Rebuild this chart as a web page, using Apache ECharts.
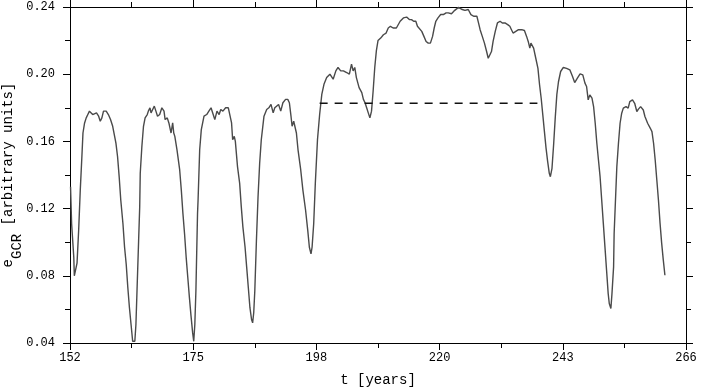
<!DOCTYPE html>
<html>
<head>
<meta charset="utf-8">
<script src="https://cdn.jsdelivr.net/npm/echarts@6/dist/echarts.min.js"></script>
<style>
  html, body { margin: 0; padding: 0; background: #fff; }
  #chart { width: 703px; height: 389px; }
</style>
</head>
<body>
<div id="chart"></div>
<script>
// time axis (years) and GCR intensity
var tYears = [
    152.1, 152.3, 152.7, 152.8, 153.1, 153.3, 153.6, 153.9, 154.2, 154.4,
    154.7, 155.0, 155.3, 155.6, 155.9, 156.2, 156.5, 156.9, 157.3, 157.6,
    157.9, 158.2, 158.7, 159.1, 159.5, 159.9, 160.2, 160.5, 160.8, 161.1,
    161.4, 161.8, 162.1, 162.4, 162.7, 163.0, 163.3, 163.6, 163.8, 164.0,
    164.2, 164.4, 164.7, 164.9, 165.0, 165.3, 165.6, 165.9, 166.3, 166.5,
    166.8, 167.0, 167.3, 167.6, 167.9, 168.2, 168.6, 169.0, 169.4, 169.6,
    170.0, 170.3, 170.7, 171.0, 171.2, 171.4, 171.8, 172.3, 172.6, 172.9,
    173.2, 173.5, 173.8, 174.1, 174.4, 174.7, 174.9, 175.1, 175.3, 175.6,
    175.7, 176.0, 176.3, 176.8, 177.3, 177.7, 178.1, 178.5, 178.8, 179.2,
    179.6, 179.9, 180.3, 180.8, 181.3, 181.6, 181.9, 182.1, 182.4, 182.6,
    183.0, 183.4, 183.7, 184.0, 184.4, 184.7, 185.0, 185.3, 185.6, 185.8,
    186.0, 186.2, 186.5, 186.8, 187.1, 187.4, 187.9, 188.4, 188.8, 189.2,
    189.6, 189.9, 190.2, 190.6, 191.0, 191.4, 191.9, 192.3, 192.6, 192.9,
    193.1, 193.4, 193.6, 193.9, 194.2, 194.7, 195.1, 195.6, 196.0, 196.3,
    196.6, 196.8, 197.1, 197.4, 197.8, 198.2, 198.6, 199.0, 199.5, 200.1,
    200.7, 201.2, 201.6, 202.1, 202.6, 203.2, 203.7, 204.1, 204.4, 204.7,
    205.0, 205.5, 206.0, 206.3, 206.6, 206.9, 207.2, 207.5, 207.8, 208.1,
    208.4, 208.7, 209.0, 209.5, 210.0, 210.5, 210.9, 211.3, 211.8, 212.4,
    213.1, 213.7, 214.3, 214.8, 215.2, 215.6, 216.0, 216.3, 216.6, 217.1,
    217.5, 217.9, 218.3, 218.7, 219.1, 219.4, 219.7, 220.1, 220.6, 221.1,
    221.6, 222.0, 222.6, 223.2, 223.9, 224.6, 225.1, 225.7, 226.2, 226.7,
    227.3, 227.6, 227.9, 228.3, 228.7, 229.1, 229.4, 229.7, 230.0, 230.3,
    230.7, 231.1, 231.6, 232.0, 232.5, 233.0, 233.4, 233.7, 234.0, 234.5,
    235.0, 235.6, 236.1, 236.5, 236.8, 237.1, 237.3, 237.6, 237.8, 238.2,
    238.6, 238.9, 239.2, 239.5, 239.8, 240.1, 240.4, 240.7, 240.9, 241.2,
    241.5, 241.8, 242.1, 242.4, 242.8, 243.3, 243.9, 244.5, 245.0, 245.4,
    245.9, 246.4, 246.9, 247.3, 247.6, 247.9, 248.2, 248.6, 248.9, 249.2,
    249.5, 249.8, 250.1, 250.4, 250.7, 251.0, 251.3, 251.6, 251.8, 252.1,
    252.3, 252.6, 252.7, 253.0, 253.2, 253.5, 253.8, 254.1, 254.4, 254.9,
    255.3, 255.6, 256.1, 256.5, 256.9, 257.2, 257.6, 258.1, 258.4, 258.9,
    259.4, 259.7, 260.0, 260.3, 260.6, 260.9, 261.2, 261.5, 261.8, 262.1
];
var eGcr = [
    0.133, 0.111, 0.091, 0.080, 0.080, 0.0875, 0.107, 0.131, 0.151, 0.165,
    0.171, 0.174, 0.176, 0.178, 0.178, 0.176, 0.175, 0.177, 0.175, 0.172,
    0.174, 0.178, 0.178, 0.176, 0.173, 0.169, 0.168, 0.159, 0.151, 0.139,
    0.125, 0.111, 0.097, 0.087, 0.073, 0.061, 0.051, 0.041, 0.040, 0.041,
    0.051, 0.071, 0.101, 0.121, 0.141, 0.157, 0.169, 0.174, 0.176, 0.178,
    0.180, 0.177, 0.179, 0.181, 0.178, 0.175, 0.176, 0.180, 0.178, 0.173,
    0.174, 0.171, 0.165, 0.171, 0.165, 0.163, 0.155, 0.143, 0.131, 0.117,
    0.105, 0.091, 0.079, 0.067, 0.056, 0.046, 0.041, 0.051, 0.071, 0.117,
    0.125, 0.155, 0.167, 0.175, 0.176, 0.178, 0.180, 0.176, 0.173, 0.178,
    0.176, 0.179, 0.178, 0.180, 0.180, 0.181, 0.171, 0.161, 0.163, 0.160,
    0.145, 0.135, 0.121, 0.109, 0.097, 0.085, 0.073, 0.061, 0.054, 0.052,
    0.058, 0.071, 0.101, 0.127, 0.147, 0.161, 0.175, 0.179, 0.180, 0.182,
    0.177, 0.180, 0.181, 0.182, 0.178, 0.183, 0.185, 0.185, 0.183, 0.175,
    0.169, 0.172, 0.171, 0.165, 0.155, 0.143, 0.131, 0.119, 0.107, 0.097,
    0.093, 0.097, 0.111, 0.135, 0.161, 0.176, 0.188, 0.194, 0.198, 0.200,
    0.197, 0.202, 0.204, 0.202, 0.202, 0.201, 0.200, 0.206, 0.202, 0.204,
    0.198, 0.192, 0.189, 0.185, 0.183, 0.180, 0.177, 0.174, 0.178, 0.190,
    0.204, 0.214, 0.220, 0.2215, 0.2235, 0.2245, 0.2275, 0.2285, 0.2275, 0.2275,
    0.2315, 0.2335, 0.234, 0.2325, 0.2325, 0.2315, 0.2315, 0.2285, 0.2275, 0.2255,
    0.2225, 0.2195, 0.2185, 0.2185, 0.2225, 0.2275, 0.2315, 0.2335, 0.2355, 0.2355,
    0.2365, 0.2365, 0.236, 0.238, 0.2398, 0.2385, 0.238, 0.2385, 0.2355, 0.2345,
    0.2345, 0.2305, 0.2265, 0.2225, 0.2185, 0.2135, 0.2095, 0.2085, 0.2135, 0.2195,
    0.2255, 0.2305, 0.2315, 0.2305, 0.2305, 0.2295, 0.2285, 0.2265, 0.2245, 0.2255,
    0.2265, 0.2265, 0.226, 0.2225, 0.2195, 0.2155, 0.2185, 0.2175, 0.2155, 0.2095,
    0.2035, 0.1937, 0.1857, 0.1758, 0.1658, 0.156, 0.148, 0.141, 0.139, 0.144,
    0.158, 0.174, 0.188, 0.1955, 0.2016, 0.204, 0.2035, 0.2026, 0.1986, 0.195,
    0.1976, 0.2002, 0.1996, 0.1947, 0.1927, 0.1847, 0.1877, 0.1857, 0.1807, 0.1708,
    0.1589, 0.1489, 0.139, 0.1251, 0.1112, 0.0972, 0.0833, 0.0694, 0.0635, 0.0605,
    0.0694, 0.0853, 0.1052, 0.1291, 0.145, 0.1589, 0.1708, 0.1768, 0.1798, 0.1807,
    0.1798, 0.1837, 0.1847, 0.1827, 0.1778, 0.1792, 0.1807, 0.1787, 0.1748, 0.1708,
    0.1678, 0.1658, 0.1589, 0.1489, 0.137, 0.1251, 0.1112, 0.0993, 0.0893, 0.0803
];

// dashed reference level
var refYears = [198.2, 238.5];
var refLevel = [0.1827, 0.1827];

var curve = tYears.map(function (t, i) { return [t, eGcr[i]]; });
var refLine = refYears.map(function (t, i) { return [t, refLevel[i]]; });

var dom = document.getElementById('chart');
var myChart = echarts.init(dom, null, { renderer: 'canvas' });

var axisCol = '#000';
var monoFont = '"Liberation Mono", "DejaVu Sans Mono", monospace';

function xAxisCfg(pos, showLabels) {
    return {
        type: 'value',
        position: pos,
        min: 152,
        max: 266,
        interval: 22.8,
        splitLine: { show: false },
        axisLine: { lineStyle: { color: axisCol, width: 1 } },
        axisTick: { show: true, length: 7, lineStyle: { color: axisCol } },
        minorTick: { show: true, splitNumber: 2, length: 5, lineStyle: { color: axisCol } },
        axisLabel: {
            show: showLabels,
            margin: 9,
            color: '#000',
            fontFamily: monoFont,
            fontSize: 12,
            formatter: function (v) { return Math.round(v); }
        }
    };
}

function yAxisCfg(pos, showLabels) {
    return {
        type: 'value',
        position: pos,
        min: 0.04,
        max: 0.24,
        interval: 0.04,
        splitLine: { show: false },
        axisLine: { lineStyle: { color: axisCol, width: 1 } },
        axisTick: { show: true, length: 7, lineStyle: { color: axisCol } },
        minorTick: { show: true, splitNumber: 2, length: 5, lineStyle: { color: axisCol } },
        axisLabel: {
            show: showLabels,
            margin: 15,
            color: '#000',
            fontFamily: monoFont,
            fontSize: 12,
            formatter: function (v) { return v.toFixed(2); }
        }
    };
}

var xBottom = xAxisCfg('bottom', true);
xBottom.name = 't [years]';
xBottom.nameLocation = 'middle';
xBottom.nameGap = 30;
xBottom.nameMoveOverlap = false;
xBottom.nameTextStyle = { color: '#000', fontFamily: monoFont, fontSize: 14 };

// e with subscript GCR: bottom padding on the main tokens lifts them above the subscript
var yLeft = yAxisCfg('left', true);
yLeft.name = '{e|e}{sub|GCR}{t| [arbitrary units]}';
yLeft.nameLocation = 'middle';
yLeft.nameRotate = 90;
yLeft.nameGap = 46;
yLeft.nameMoveOverlap = false;
yLeft.nameTextStyle = {
    color: '#000',
    fontFamily: monoFont,
    rich: {
        e: { fontFamily: monoFont, fontSize: 14, lineHeight: 14, padding: [0, 0, 18, 0], color: '#000' },
        t: { fontFamily: monoFont, fontSize: 14, lineHeight: 14, padding: [0, 0, 18, 0], color: '#000' },
        sub: { fontFamily: monoFont, fontSize: 14, lineHeight: 14, color: '#000' }
    }
};

var option = {
    backgroundColor: '#fff',
    animation: false,
    grid: { left: 70, right: 17, top: 7, bottom: 46, containLabel: false, outerBoundsMode: 'none' },
    xAxis: [xBottom, xAxisCfg('top', false)],
    yAxis: [yLeft, yAxisCfg('right', false)],
    series: [
        {
            name: 'GCR',
            type: 'line',
            xAxisIndex: 0,
            yAxisIndex: 0,
            showSymbol: false,
            lineStyle: { color: '#4a4a4a', width: 1.4 },
            data: curve
        },
        {
            name: 'level',
            type: 'line',
            xAxisIndex: 0,
            yAxisIndex: 0,
            showSymbol: false,
            lineStyle: { color: '#111', width: 1.4, type: [8, 7] },
            data: refLine
        }
    ]
};

if (option && typeof option === 'object') {
    myChart.setOption(option, true);
}
</script>
</body>
</html>
